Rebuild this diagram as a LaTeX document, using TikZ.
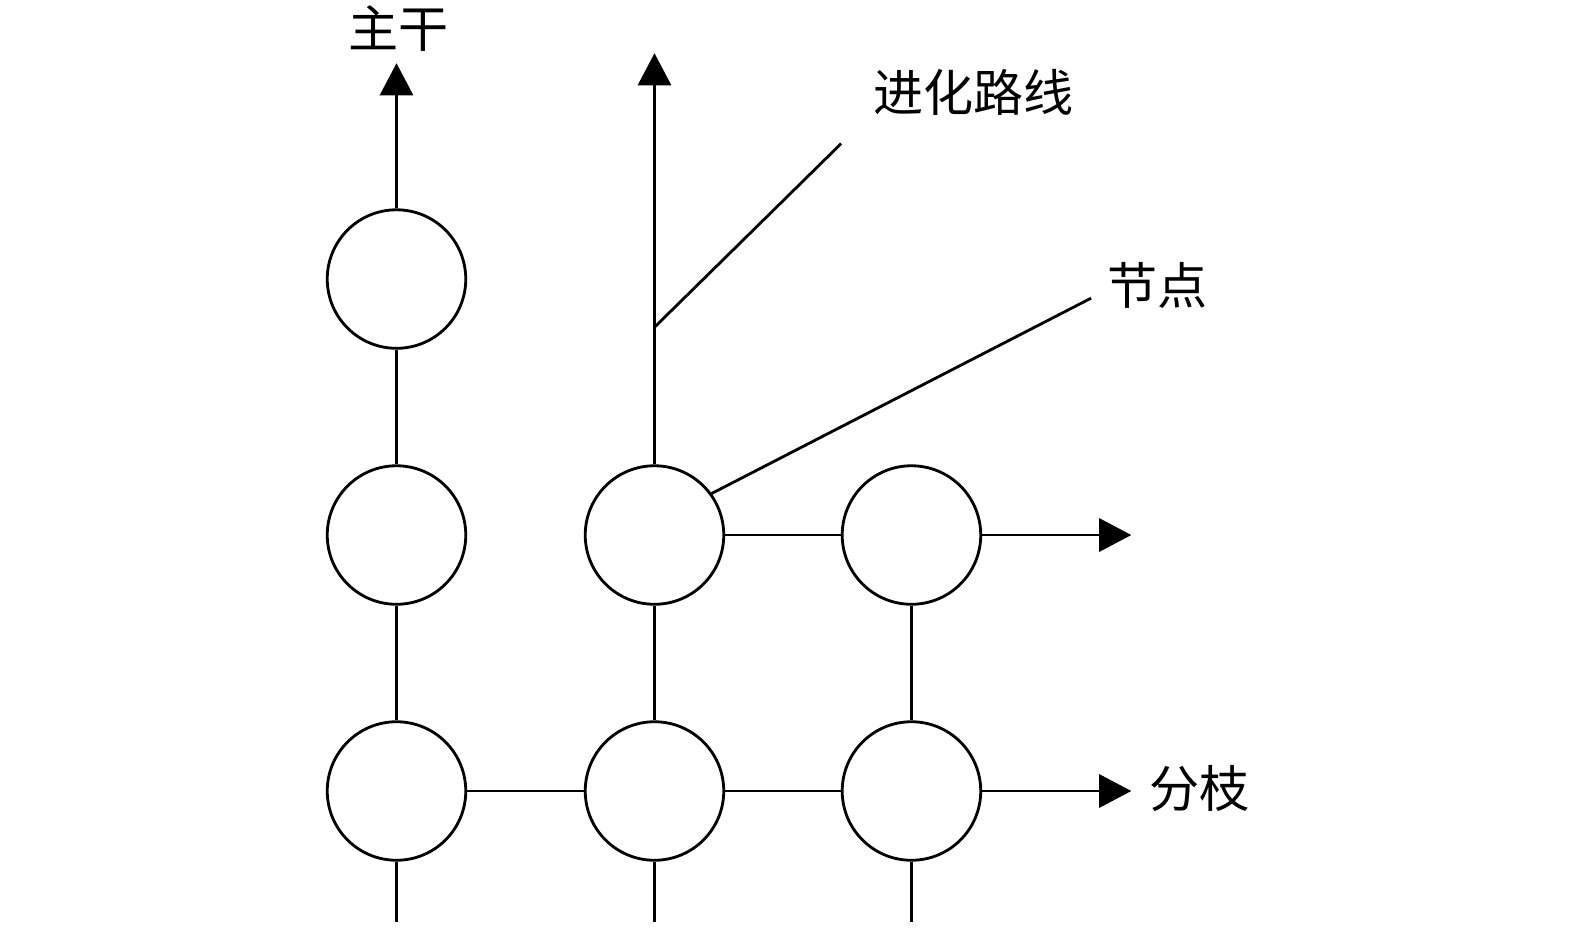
\documentclass[tikz,border=0pt]{standalone}
\usepackage{fontspec}
\newfontfamily\cjk{Noto Sans CJK SC}
\usetikzlibrary{arrows.meta, positioning, calc}

\begin{document}
\begin{tikzpicture}
  \newcommand\nodesize{1.38cm}
  \newcommand\tailen{0.6}

  \tikzset{evnode/.style={draw, circle, line width=0.8pt, minimum size=\nodesize, inner sep=0pt}}
  \tikzset{evline/.style={line width=0.8pt}}
  \tikzset{evptr/.style={evline, -{Triangle[length=0.32cm, width=0.33cm]}}}
  \tikzset{lbl/.style={font=\cjk\fontsize{14.2}{17}\selectfont, inner sep=0pt}}

  \useasboundingbox (0, 0.015) rectangle (15.69, 9.25);

  % nodes
  \foreach \name/\x/\y in {n11/3.95/6.47, n12/3.95/3.92, n13/3.95/1.37,
                           n22/6.52/3.92, n23/6.52/1.37,
                           n32/9.08/3.92, n33/9.08/1.37}{
    \node[evnode] (\name) at (\x, \y) {};
  }

  % links
  \foreach \a/\b in {n11/n12, n12/n13, n22/n23, n32/n33, n13/n23, n23/n33, n22/n32}{
    \draw[evline] (\a) -- (\b);
  }
  \foreach \a in {n13, n23, n33}{
    \draw[evline] (\a.south) -- ++(0, -\tailen);
  }

  % arrows
  \coordinate (top1) at (3.95, 8.62);
  \coordinate (top2) at (6.52, 8.72);
  \coordinate (right2) at (11.27, 3.92);
  \coordinate (right3) at (11.27, 1.37);
  \draw[evptr] (n11) -- (top1);
  \draw[evptr] (n22) -- (top2);
  \draw[evptr] (n32) -- (right2);
  \draw[evptr] (n33) -- (right3);

  % labels
  \node[lbl] (trunk) at (3.97, 8.97) {主干};
  \node[lbl] (branch) at (11.95, 1.39) {分枝};
  \node[lbl] (route) at (9.70, 8.33) {进化路线};
  \node[lbl] (knot) at (11.53, 6.41) {节点};

  % pointers
  \coordinate (route-a) at (6.52, 5.99);
  \coordinate (route-b) at (8.38, 7.82);
  \coordinate (knot-b) at (10.87, 6.28);
  \draw[evline] (route-a) -- (route-b);
  \draw[evline] (n22.36) -- (knot-b);
\end{tikzpicture}
\end{document}
